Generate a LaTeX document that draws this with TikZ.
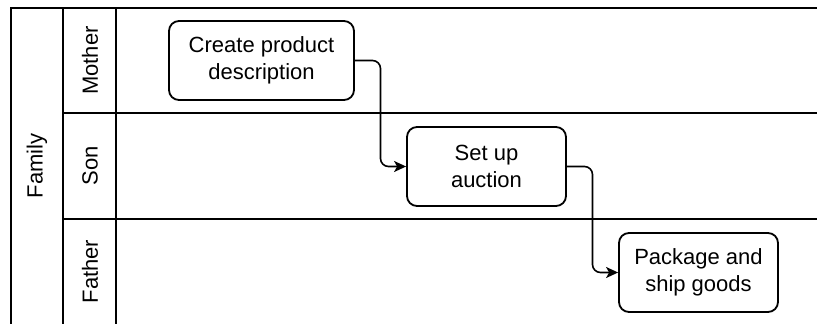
\documentclass[tikz,border=0pt]{standalone}
\usepackage{fontspec}
\setmainfont{Liberation Sans}
\usetikzlibrary{positioning, arrows.meta, calc}

\begin{document}
\begin{tikzpicture}[
    x=1pt, y=-1pt,
    every node/.style={align=center, font=\fontsize{22}{26.5}\selectfont},
    pool/.style={line width=1.8pt},
    lanetitle/.style={rotate=90, inner sep=0pt},
    task/.style={draw, line width=1.8pt, rounded corners=10pt, minimum width=159pt, minimum height=79pt, inner sep=0pt},
    flow/.style={-{Stealth[length=12pt, width=11pt, inset=3pt]}, line width=1.6pt, rounded corners=8pt}
]
\useasboundingbox (0,0) rectangle (817,324);

% pool and lanes
\draw[pool] (11,324) -- (11,8) -- (817,8);
\draw[pool] (63,8) -- (63,324);
\draw[pool] (116,8) -- (116,324);
\draw[pool] (63,113) -- (817,113);
\draw[pool] (63,219) -- (817,219);

% titles
\node[lanetitle] (family) at (37,166) {Family};
\node[lanetitle] (mother) at (90,60.5) {Mother};
\node[lanetitle] (son) at (90,166) {Son};
\node[lanetitle] (father) at (90,271.5) {Father};

% tasks
\node[task, minimum width=185pt] (create) at (261.5,60.5) {Create product\\description};
\node[task] (auction) at (486.5,166.5) {Set up\\auction};
\node[task] (ship) at (698.5,272.5) {Package and\\ship goods};

% flows
\draw[flow] (create.east) -| ($(create.east)!0.5!(auction.west)$) |- (auction.west);
\draw[flow] (auction.east) -| ($(auction.east)!0.5!(ship.west)$) |- (ship.west);

\end{tikzpicture}
\end{document}
